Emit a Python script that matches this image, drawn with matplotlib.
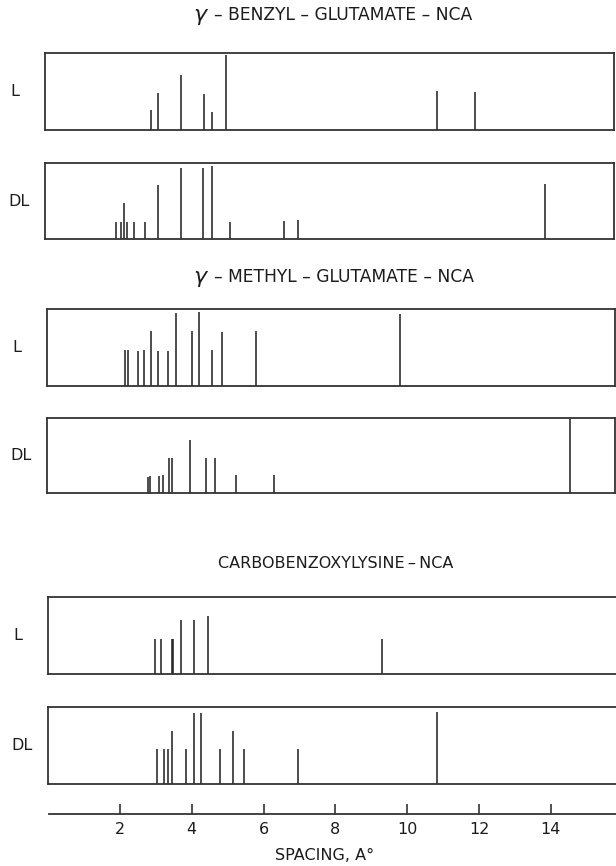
import matplotlib
matplotlib.use("Agg")
import matplotlib.pyplot as plt

# d-spacings (Angstrom) and relative line intensities for each powder pattern
benzyl_L_pos = [2.87, 3.07, 3.70, 4.33, 4.57, 4.95, 10.84, 11.90]
benzyl_L_int = [0.26, 0.48, 0.71, 0.47, 0.23, 0.97, 0.51, 0.50]

benzyl_DL_pos = [1.88, 2.02, 2.12, 2.21, 2.39, 2.70, 3.07, 3.69, 4.31, 4.56, 5.06, 6.56, 6.95, 13.83]
benzyl_DL_int = [0.22, 0.22, 0.48, 0.22, 0.22, 0.22, 0.71, 0.94, 0.94, 0.96, 0.22, 0.24, 0.25, 0.73]

methyl_L_pos = [2.14, 2.24, 2.50, 2.67, 2.86, 3.07, 3.35, 3.56, 4.01, 4.20, 4.56, 4.84, 5.79, 9.80]
methyl_L_int = [0.47, 0.47, 0.46, 0.47, 0.72, 0.46, 0.46, 0.95, 0.71, 0.96, 0.47, 0.70, 0.71, 0.93]

methyl_DL_pos = [2.78, 2.85, 3.10, 3.19, 3.36, 3.44, 3.96, 4.40, 4.64, 5.24, 6.29, 14.54]
methyl_DL_int = [0.22, 0.23, 0.23, 0.24, 0.47, 0.47, 0.71, 0.47, 0.47, 0.24, 0.24, 0.98]

cbz_L_pos = [2.97, 3.15, 3.44, 3.49, 3.69, 4.07, 4.46, 9.29]
cbz_L_int = [0.45, 0.45, 0.45, 0.46, 0.70, 0.70, 0.75, 0.45]

cbz_DL_pos = [3.04, 3.24, 3.35, 3.45, 3.84, 4.07, 4.26, 4.80, 5.15, 5.45, 6.96, 10.84]
cbz_DL_int = [0.46, 0.46, 0.46, 0.69, 0.46, 0.92, 0.92, 0.46, 0.69, 0.46, 0.46, 0.93]

x_ticks = [2, 4, 6, 8, 10, 12, 14]
titles = ["BENZYL – GLUTAMATE – NCA", "METHYL – GLUTAMATE – NCA",
          "CARBOBENZOXYLYSINE\u2009–\u2009NCA"]

W, H = 616, 866
fig = plt.figure(figsize=(W / 100, H / 100), dpi=100)
fig.patch.set_facecolor("white")
INK = "#1c1c1c"
PX0, PXU = 48.0, 35.92   # pixel of x=0 and pixels per Angstrom
FS = 11.5


def add_px_axes(left, top, right, bottom):
    return fig.add_axes([left / W, 1 - bottom / H, (right - left) / W, (bottom - top) / H])


def pattern(box, pos, inten, label, label_x):
    left, top, right, bottom = box
    ax = add_px_axes(left, top, right, bottom)
    ax.set_xlim((left - PX0) / PXU, (right - PX0) / PXU)
    ax.set_ylim(0, 1)
    ax.vlines(pos, 0, inten, color=INK, lw=1.1)
    ax.set_xticks([])
    ax.set_yticks([])
    for s in ax.spines.values():
        s.set_color("#333333")
        s.set_linewidth(1.3)
    fig.text(label_x / W, 1 - (top + bottom) / 2 / H, label, ha="center", va="center",
             fontsize=FS, color=INK)
    return ax


pattern((45, 53, 614, 130), benzyl_L_pos, benzyl_L_int, "L", 15)
pattern((45, 163, 614, 239), benzyl_DL_pos, benzyl_DL_int, "DL", 19)
pattern((47, 309, 615, 386), methyl_L_pos, methyl_L_int, "L", 17)
pattern((47, 418, 615, 493), methyl_DL_pos, methyl_DL_int, "DL", 21)
pattern((48, 597, 625, 674), cbz_L_pos, cbz_L_int, "L", 18)
pattern((48, 707, 625, 784), cbz_DL_pos, cbz_DL_int, "DL", 22)


# section titles
def title(y, text, x, with_gamma, size):
    if with_gamma:
        fig.text((x - 8) / W, 1 - y / H, "γ", ha="right", va="center", fontsize=16,
                 style="italic", color=INK)
        fig.text(x / W, 1 - y / H, "– " + text, ha="left", va="center", fontsize=size, color=INK)
    else:
        fig.text(x / W, 1 - y / H, text, ha="center", va="center", fontsize=size, color=INK)


title(15, titles[0], 214, True, 12.3)
title(277, titles[1], 214, True, 12.3)
title(564, titles[2], 336, False, FS)

# shared spacing axis
axx = add_px_axes(49, 780, 625, 814)
axx.set_xlim((49 - PX0) / PXU, (625 - PX0) / PXU)
axx.set_ylim(0, 1)
for k in ("top", "left", "right"):
    axx.spines[k].set_visible(False)
axx.spines["bottom"].set_color("#333333")
axx.spines["bottom"].set_linewidth(1.3)
axx.set_yticks([])
axx.set_xticks(x_ticks)
axx.set_xticklabels([str(t) for t in x_ticks])
axx.tick_params(axis="x", direction="in", length=7, width=1.2, color="#333333",
                labelsize=FS, labelcolor=INK, pad=6)
axx.patch.set_alpha(0)

fig.text(325 / W, 1 - 855 / H, "SPACING, A°", ha="center", va="center", fontsize=FS, color=INK)

fig.savefig("out.png", dpi=100, facecolor="white")
